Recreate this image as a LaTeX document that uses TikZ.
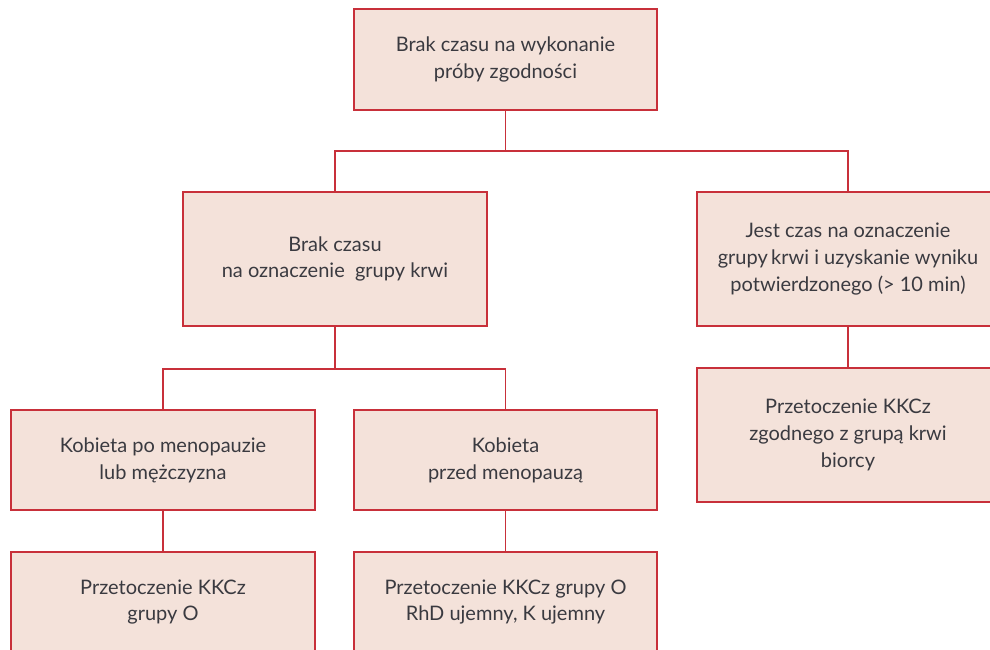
\documentclass[tikz,border=0pt]{standalone}
\usepackage{fontspec}
\setmainfont{Lato}
\definecolor{boxfill}{RGB}{244,226,218}
\definecolor{boxline}{RGB}{200,48,58}
\definecolor{txt}{RGB}{58,58,64}
\begin{document}
\begin{tikzpicture}[x=1pt,y=-1pt,
  box/.style={draw=boxline,fill=boxfill,line width=1.3pt,align=center,text=txt,
    font=\fontsize{20}{26.8}\selectfont,inner sep=0pt},
  link/.style={draw=boxline,line width=1.3pt}]
\useasboundingbox (0,0) rectangle (990,649);
\clip (0,0) rectangle (990,649);
\fill[white] (0,0) rectangle (990,649);
\node[box,minimum width=303pt,minimum height=101pt] (top) at (505.5,59.5)
  {Brak czasu na wykonanie\\próby zgodności};
\node[box,minimum width=304pt,minimum height=134pt] (midL) at (335,259)
  {Brak czasu\\na oznaczenie\ \ grupy krwi};
\node[box,minimum width=302pt,minimum height=134pt] (midR) at (848,259)
  {Jest czas na oznaczenie\\grupy\,krwi i uzyskanie wyniku\\potwierdzonego (> 10 min)};
\node[box,minimum width=304pt,minimum height=100pt] (kob1) at (163,460)
  {Kobieta po menopauzie\\lub mężczyzna};
\node[box,minimum width=303pt,minimum height=100pt] (kob2) at (505.5,460)
  {Kobieta\\przed menopauzą};
\node[box,minimum width=302pt,minimum height=134pt] (przR) at (848,435)
  {Przetoczenie KKCz\\zgodnego z grupą krwi\\biorcy};
\node[box,minimum width=304pt,minimum height=100pt] (prz1) at (163,602)
  {Przetoczenie KKCz\\grupy O};
\node[box,minimum width=303pt,minimum height=100pt] (prz2) at (505.5,602)
  {Przetoczenie KKCz grupy O\\RhD ujemny, K ujemny};
\coordinate (j1) at (505.5,151);
\coordinate (j2) at (335,369);
\path[link] (top.south) -- (j1);
\path[link] (midL.north) -- (midL.north |- j1) -- (midR.north |- j1) -- (midR.north);
\path[link] (midL.south) -- (j2);
\path[link] (kob1.north) -- (kob1.north |- j2) -- (kob2.north |- j2) -- (kob2.north);
\path[link] (kob1.south) -- (prz1.north);
\path[link] (kob2.south) -- (prz2.north);
\path[link] (midR.south) -- (przR.north);
\end{tikzpicture}
\end{document}
